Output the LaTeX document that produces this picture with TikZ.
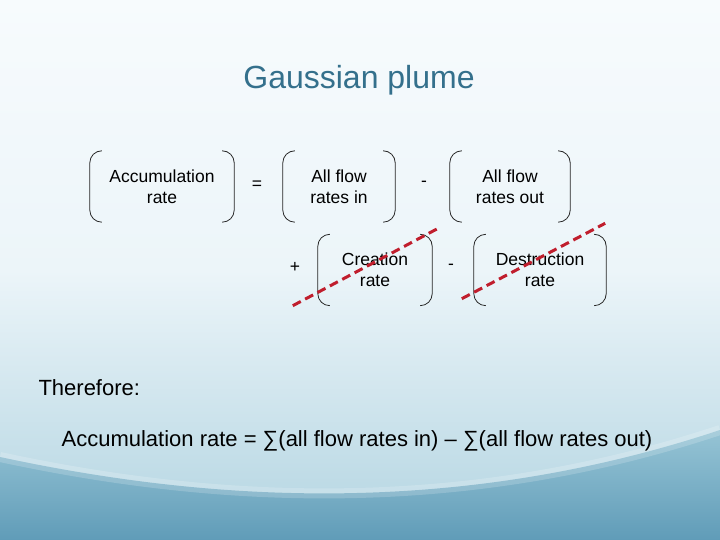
\documentclass[tikz,border=0pt]{standalone}
\usepackage{fontspec}
\setmainfont{Liberation Sans}
\usepackage{tikz}

\definecolor{titleblue}{RGB}{52,112,140}
\definecolor{crossred}{RGB}{192,30,45}
\definecolor{skytop}{RGB}{247,251,253}
\definecolor{skymid}{RGB}{236,245,249}
\definecolor{skylow}{RGB}{178,212,225}
\definecolor{wavetop}{RGB}{150,196,213}
\definecolor{wavelow}{RGB}{96,156,184}

\begin{document}
\begin{tikzpicture}[
		x=1pt, y=1pt,
		paren box/.style={
			align=center,
			minimum height=71pt,
			inner sep=0pt,
			font=\fontsize{17.5}{21}\selectfont
		},
		op/.style={
			font=\fontsize{17.5}{21}\selectfont
		},
		paren/.style={
			draw=black!85,
			line width=0.8pt
		},
		cross out line/.style={
			draw=crossred,
			line width=3pt,
			dash pattern=on 9pt off 5pt
		}
		]
		
		% slide background
		\useasboundingbox (0,0) rectangle (720,540);
		\shade[top color=skytop, bottom color=skylow, middle color=skymid] (0,0) rectangle (720,540);
		\shade[top color=wavetop, bottom color=wavelow]
			(0,83) .. controls (200,40) and (450,20) .. (720,110) -- (720,0) -- (0,0) -- cycle;
		\draw[white, line width=10pt, opacity=0.18]
			(0,83) .. controls (200,40) and (450,20) .. (720,110);
		
		\node[font=\fontsize{32}{36}\selectfont, text=titleblue] (title) at (359,460) {Gaussian plume};
		
		% first row
		\node[paren box, minimum width=144pt] (accum) at (162,353.5)
		{Accumulation\\rate};
		\node[op] (eq) at (257,355) {=};
		\node[paren box, minimum width=112pt] (flowin) at (339,353.5)
		{All flow\\rates in};
		\node[op] (minusA) at (424,356) {-};
		\node[paren box, minimum width=120pt] (flowout) at (510,353.5)
		{All flow\\rates out};
		
		% second row
		\node[op] (plus) at (295,273) {+};
		\node[paren box, minimum width=114pt] (create) at (375,270)
		{Creation\\rate};
		\node[op] (minusB) at (451,273) {-};
		\node[paren box, minimum width=132pt] (destroy) at (540,270)
		{Destruction\\rate};
		
		\foreach \b in {accum,flowin,flowout,create,destroy}{
			\draw[paren] ([xshift=12pt]\b.north west) to[out=180,in=90] ([yshift=-12pt]\b.north west)
				-- ([yshift=12pt]\b.south west) to[out=-90,in=180] ([xshift=12pt]\b.south west);
			\draw[paren] ([xshift=-12pt]\b.north east) to[out=0,in=90] ([yshift=-12pt]\b.north east)
				-- ([yshift=12pt]\b.south east) to[out=-90,in=0] ([xshift=-12pt]\b.south east);
		}
		
		\draw[cross out line] ([xshift=-25pt]create.south west) -- ([xshift=6pt,yshift=6pt]create.north east);
		\draw[cross out line] ([xshift=-12pt,yshift=7pt]destroy.south west) -- ([xshift=-1pt,yshift=11pt]destroy.north east);
		
		\node[font=\fontsize{22}{26}\selectfont, anchor=west] (therefore) at (35,152) {Therefore:};
		\node[font=\fontsize{22}{26}\selectfont] (balance) at (357,99)
		{Accumulation rate = ∑(all flow rates in) – ∑(all flow rates out)};
		
	\end{tikzpicture}
\end{document}
